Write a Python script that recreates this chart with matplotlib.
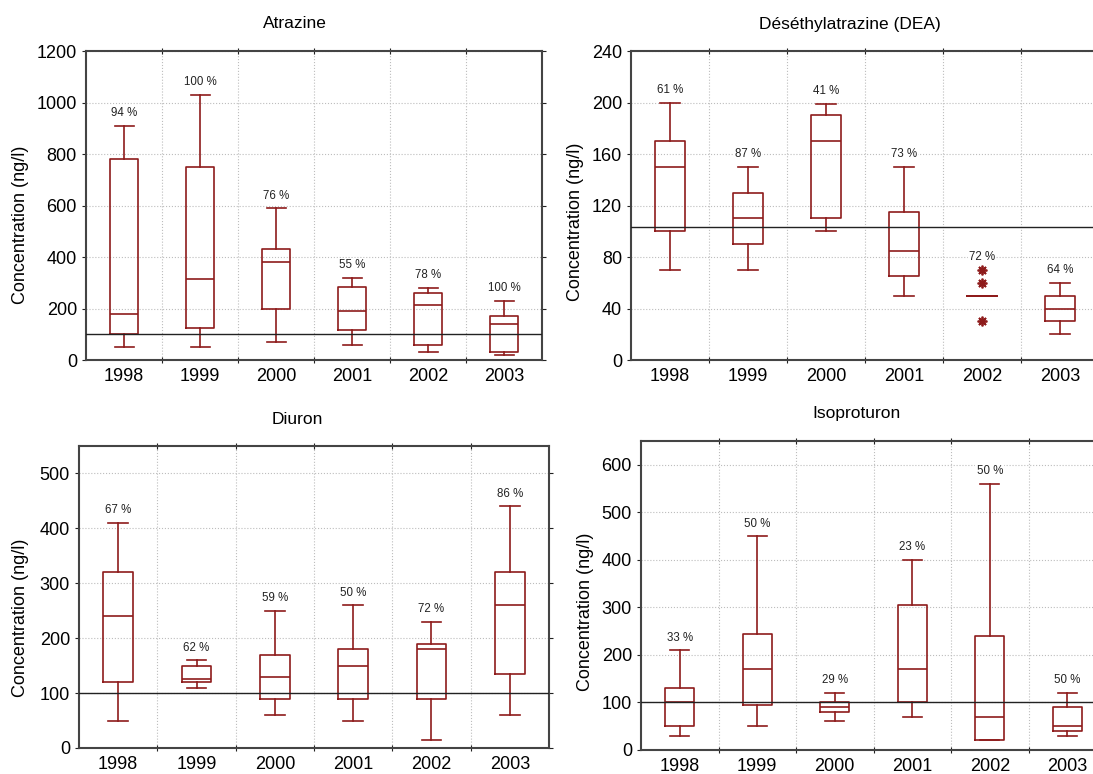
import matplotlib
matplotlib.use('Agg')
import matplotlib.pyplot as plt

plt.rcParams['font.family'] = ['Liberation Sans', 'DejaVu Sans']

W, H = 1093, 774
years = ['1998', '1999', '2000', '2001', '2002', '2003']

# Atrazine
atz_low = [50, 50, 70, 60, 30, 20]
atz_q1 = [100, 125, 200, 115, 60, 30]
atz_med = [180, 315, 380, 190, 215, 140]
atz_q3 = [780, 750, 430, 285, 260, 170]
atz_high = [910, 1030, 590, 320, 280, 230]
atz_pct = ['94 %', '100 %', '76 %', '55 %', '78 %', '100 %']

# Déséthylatrazine
dea_low = [70, 70, 100, 50, 50, 20]
dea_q1 = [100, 90, 110, 65, 50, 30]
dea_med = [150, 110, 170, 85, 50, 40]
dea_q3 = [170, 130, 190, 115, 50, 50]
dea_high = [200, 150, 199, 150, 50, 60]
dea_out = [[], [], [], [], [70, 60, 30], []]
dea_pct = ['61 %', '87 %', '41 %', '73 %', '72 %', '64 %']

# Diuron
diu_low = [50, 110, 60, 50, 15, 60]
diu_q1 = [120, 120, 90, 90, 90, 135]
diu_med = [240, 125, 130, 150, 180, 260]
diu_q3 = [320, 150, 170, 180, 190, 320]
diu_high = [410, 160, 250, 260, 230, 440]
diu_pct = ['67 %', '62 %', '59 %', '50 %', '72 %', '86 %']

# Isoproturon
iso_low = [30, 50, 60, 70, 20, 30]
iso_q1 = [50, 95, 80, 100, 20, 40]
iso_med = [100, 170, 90, 170, 70, 50]
iso_q3 = [130, 245, 100, 305, 240, 90]
iso_high = [210, 450, 120, 400, 560, 120]
iso_pct = ['33 %', '50 %', '29 %', '23 %', '50 %', '50 %']

red = '#8e1b1b'

fig = plt.figure(figsize=(W / 100, H / 100), dpi=100)


def px_axes(left, right, top, bottom):
    return fig.add_axes([left / W, (H - bottom) / H, (right - left) / W, (bottom - top) / H])


def panel(ax, low, q1, med, q3, high, pct, ymax, yticks, ref, outliers=None):
    if outliers is None:
        outliers = [[] for _ in years]
    stats = []
    for i in range(len(years)):
        stats.append(dict(whislo=low[i], q1=q1[i], med=med[i], q3=q3[i],
                          whishi=high[i], fliers=outliers[i]))
    ax.bxp(stats, positions=range(1, 7), widths=0.38, capwidths=0.25,
           showfliers=True,
           boxprops=dict(color=red, lw=1.2),
           medianprops=dict(color=red, lw=1.2),
           whiskerprops=dict(color=red, lw=1.2),
           capprops=dict(color=red, lw=1.2),
           flierprops=dict(marker=(8, 2, 0), markersize=7, markeredgewidth=1.3,
                           markeredgecolor=red, markerfacecolor=red))
    ax.axhline(ref, color='#222222', lw=1.0, zorder=3)
    for i in range(len(years)):
        top = max([high[i]] + list(outliers[i]))
        ax.annotate(pct[i], (i + 1, top), xytext=(0, 9), textcoords='offset points',
                    ha='center', va='center', fontsize=8.3, color='#222222',
                    bbox=dict(boxstyle='square,pad=0.1', fc='white', ec='none'),
                    zorder=4)
    ax.set_xlim(0.5, 6.5)
    ax.set_ylim(0, ymax)
    ax.set_yticks(yticks)
    # category borders carry the ticks and grid, years sit in between
    ax.set_xticks([1.5, 2.5, 3.5, 4.5, 5.5])
    ax.set_xticklabels([])
    ax.set_xticks(range(1, 7), minor=True)
    ax.set_xticklabels(years, minor=True)
    ax.tick_params(axis='x', which='minor', length=0, labelsize=13, pad=6)
    ax.tick_params(axis='x', which='major', direction='inout', length=5,
                   top=True, color='#222222')
    ax.tick_params(axis='y', direction='out', length=3, labelsize=13,
                   right=True, color='#222222')
    ax.grid(True, which='major', ls=':', color='#bdbdbd', lw=0.8)
    ax.set_axisbelow(True)
    for s in ax.spines.values():
        s.set_color('#444444')
        s.set_linewidth(1.5)


ax1 = px_axes(86, 542, 51, 360)
panel(ax1, atz_low, atz_q1, atz_med, atz_q3, atz_high, atz_pct,
      1200, range(0, 1201, 200), 100)

ax2 = px_axes(631, 1099, 51, 360)
panel(ax2, dea_low, dea_q1, dea_med, dea_q3, dea_high, dea_pct,
      240, range(0, 241, 40), 103, dea_out)

ax3 = px_axes(79, 549, 446, 748)
panel(ax3, diu_low, diu_q1, diu_med, diu_q3, diu_high, diu_pct,
      550, range(0, 501, 100), 100)

ax4 = px_axes(641, 1106, 441, 750)
panel(ax4, iso_low, iso_q1, iso_med, iso_q3, iso_high, iso_pct,
      650, range(0, 601, 100), 100)

titles = [('Atrazine', 295, 24), ('Déséthylatrazine (DEA)', 850, 24),
          ('Diuron', 297, 420), ('Isoproturon', 857, 414)]
for t, x, y in titles:
    fig.text(x / W, 1 - y / H, t, ha='center', va='center', fontsize=12.5)

ylabels = [(21, 225), (576, 222), (21, 618), (585, 612)]
for x, y in ylabels:
    fig.text(x / W, 1 - y / H, 'Concentration (ng/l)', rotation=90,
             ha='center', va='center', fontsize=13)

fig.savefig('out.png', dpi=100)
